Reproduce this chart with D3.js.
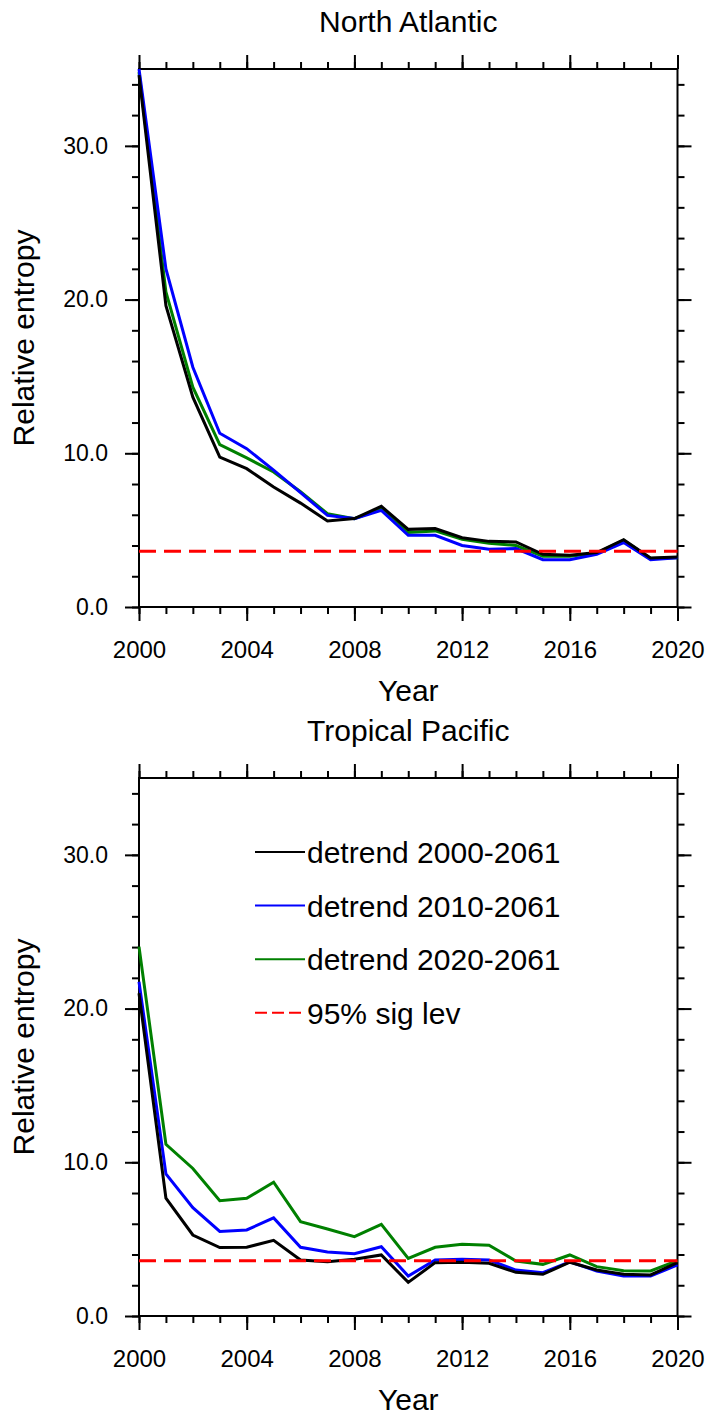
<!DOCTYPE html>
<html>
<head>
<meta charset="utf-8">
<script src="https://cdn.jsdelivr.net/npm/d3@7"></script>
<style>
  body { margin: 0; background: #fff; }
  text { font-family: "Liberation Sans", Arial, sans-serif; fill: #000; }
</style>
</head>
<body>
<div id="chart"></div>
<script>
// data
years = [2000, 2001, 2002, 2003, 2004, 2005, 2006, 2007, 2008, 2009, 2010,
	2011, 2012, 2013, 2014, 2015, 2016, 2017, 2018, 2019, 2020];

series_names = ['detrend 2000-2061', 'detrend 2010-2061', 'detrend 2020-2061'];
sig_name = '95% sig lev';

// North Atlantic
na_2000 = [34.6, 19.6, 13.65, 9.75, 9.0, 7.8, 6.76, 5.6, 5.75, 6.55, 5.05, 5.1, 4.51, 4.27, 4.23, 3.43, 3.36, 3.54, 4.38, 3.19, 3.25];
na_2010 = [35.0, 22.0, 15.6, 11.3, 10.3, 8.9, 7.44, 5.96, 5.75, 6.29, 4.66, 4.66, 4.0, 3.75, 3.8, 3.08, 3.08, 3.43, 4.19, 3.08, 3.2];
na_2020 = [34.8, 20.5, 14.3, 10.56, 9.7, 8.78, 7.5, 6.07, 5.75, 6.4, 4.85, 4.95, 4.4, 4.15, 4.0, 3.3, 3.3, 3.5, 4.35, 3.15, 3.2];
na_sig = 3.62;

// Tropical Pacific
tp_2000 = [21.0, 7.66, 5.27, 4.45, 4.47, 4.92, 3.64, 3.53, 3.69, 3.97, 2.19, 3.47, 3.49, 3.43, 2.84, 2.71, 3.5, 2.99, 2.71, 2.67, 3.47];
tp_2010 = [21.75, 9.24, 7.05, 5.5, 5.6, 6.38, 4.47, 4.16, 4.05, 4.51, 2.6, 3.64, 3.69, 3.64, 2.99, 2.82, 3.53, 2.93, 2.6, 2.6, 3.32];
tp_2020 = [24.03, 11.17, 9.6, 7.5, 7.66, 8.7, 6.14, 5.66, 5.16, 5.96, 3.75, 4.47, 4.66, 4.6, 3.58, 3.36, 3.97, 3.21, 2.95, 2.93, 3.6];
tp_sig = 3.6;

// ticks
x_major = [2000, 2004, 2008, 2012, 2016, 2020];
y_major = [0, 10, 20, 30];
y_minor = [0, 2, 4, 6, 8, 10, 12, 14, 16, 18, 20, 22, 24, 26, 28, 30, 32, 34];
y_max = 35;

// chart settings
chart_width = 708;
chart_height = 1418;
plot_left = 139;
plot_right = 677.5;
plot_height = 538;
panel_tops = [69, 778];

colors = ['#000000', '#0000ff', '#008000'];
sig_color = '#ff0000';

var svg = d3.select('#chart')
	.append('svg')
	.attr('width', chart_width)
	.attr('height', chart_height);

x_scale = d3.scaleLinear()
	.domain([2000, 2020])
	.range([plot_left, plot_right]);

function draw_panel(top, title, values, sig, show_legend) {
	var y_scale = d3.scaleLinear()
		.domain([0, y_max])
		.range([top + plot_height, top]);
	var bottom = top + plot_height;
	var g = svg.append('g');

	// minor ticks on all four sides
	g.append('g').attr('transform', `translate(0,${bottom})`)
		.call(d3.axisBottom(x_scale).tickValues(years).tickSize(7).tickSizeOuter(0).tickFormat(''));
	g.append('g').attr('transform', `translate(0,${top})`)
		.call(d3.axisTop(x_scale).tickValues(years).tickSize(7).tickSizeOuter(0).tickFormat(''));
	g.append('g').attr('transform', `translate(${plot_left},0)`)
		.call(d3.axisLeft(y_scale).tickValues(y_minor).tickSize(7).tickSizeOuter(0).tickFormat(''));
	g.append('g').attr('transform', `translate(${plot_right},0)`)
		.call(d3.axisRight(y_scale).tickValues(y_minor).tickSize(7).tickSizeOuter(0).tickFormat(''));

	// major ticks
	var x_axis = g.append('g').attr('transform', `translate(0,${bottom})`)
		.call(d3.axisBottom(x_scale).tickValues(x_major).tickSize(14).tickSizeOuter(0).tickPadding(20).tickFormat(d3.format('d')));
	g.append('g').attr('transform', `translate(0,${top})`)
		.call(d3.axisTop(x_scale).tickValues(x_major).tickSize(14).tickSizeOuter(0).tickFormat(''));
	var y_axis = g.append('g').attr('transform', `translate(${plot_left},0)`)
		.call(d3.axisLeft(y_scale).tickValues(y_major).tickSize(14).tickSizeOuter(0).tickPadding(17).tickFormat(d3.format('.1f')));
	g.append('g').attr('transform', `translate(${plot_right},0)`)
		.call(d3.axisRight(y_scale).tickValues(y_major).tickSize(14).tickSizeOuter(0).tickFormat(''));

	g.selectAll('.tick line').attr('stroke', '#000').attr('stroke-width', 2);
	g.selectAll('.domain').attr('stroke', 'none');
	x_axis.selectAll('text').attr('font-size', 24).attr('font-family', 'Liberation Sans, Arial, sans-serif').attr('fill', '#000');
	y_axis.selectAll('text').attr('font-size', 23).attr('font-family', 'Liberation Sans, Arial, sans-serif').attr('fill', '#000');

	// frame
	g.append('rect')
		.attr('x', plot_left)
		.attr('y', top)
		.attr('width', plot_right - plot_left)
		.attr('height', plot_height)
		.attr('fill', 'none')
		.attr('stroke', '#000')
		.attr('stroke-width', 2);

	// lines (drawn last-first so black sits on top)
	var line = d3.line()
		.x((d, i) => x_scale(years[i]))
		.y((d) => y_scale(d));

	for (var k = values.length - 1; k >= 0; k--) {
		g.append('path')
			.datum(values[k])
			.attr('d', line)
			.attr('fill', 'none')
			.attr('stroke', colors[k])
			.attr('stroke-width', 3);
	}

	g.append('line')
		.attr('x1', x_scale(2000))
		.attr('x2', x_scale(2020))
		.attr('y1', y_scale(sig))
		.attr('y2', y_scale(sig))
		.attr('stroke', sig_color)
		.attr('stroke-width', 3)
		.attr('stroke-dasharray', '17,8');

	// titles
	g.append('text')
		.attr('x', (plot_left + plot_right) / 2)
		.attr('y', top - 37)
		.attr('text-anchor', 'middle')
		.attr('font-size', 30)
		.text(title);

	g.append('text')
		.attr('x', (plot_left + plot_right) / 2)
		.attr('y', bottom + 94)
		.attr('text-anchor', 'middle')
		.attr('font-size', 30)
		.text('Year');

	g.append('text')
		.attr('transform', `translate(34,${top + plot_height / 2}) rotate(-90)`)
		.attr('text-anchor', 'middle')
		.attr('font-size', 30)
		.text('Relative entropy');

	// legend
	if (show_legend) {
		var items = series_names.map((n, i) => ({ name: n, color: colors[i], dash: null }));
		items.push({ name: sig_name, color: sig_color, dash: '12,5' });
		var leg = g.selectAll('.legend')
			.data(items)
			.enter()
			.append('g')
			.attr('transform', (d, i) => `translate(255,${top + 74 + i * 53.6})`);
		leg.append('line')
			.attr('x1', 0)
			.attr('x2', 50)
			.attr('stroke', (d) => d.color)
			.attr('stroke-width', 2)
			.attr('stroke-dasharray', (d) => d.dash);
		leg.append('text')
			.attr('x', 52)
			.attr('y', 11)
			.attr('font-size', 30)
			.text((d) => d.name);
	}
}

draw_panel(panel_tops[0], 'North Atlantic', [na_2000, na_2010, na_2020], na_sig, false);
draw_panel(panel_tops[1], 'Tropical Pacific', [tp_2000, tp_2010, tp_2020], tp_sig, true);
</script>
</body>
</html>
